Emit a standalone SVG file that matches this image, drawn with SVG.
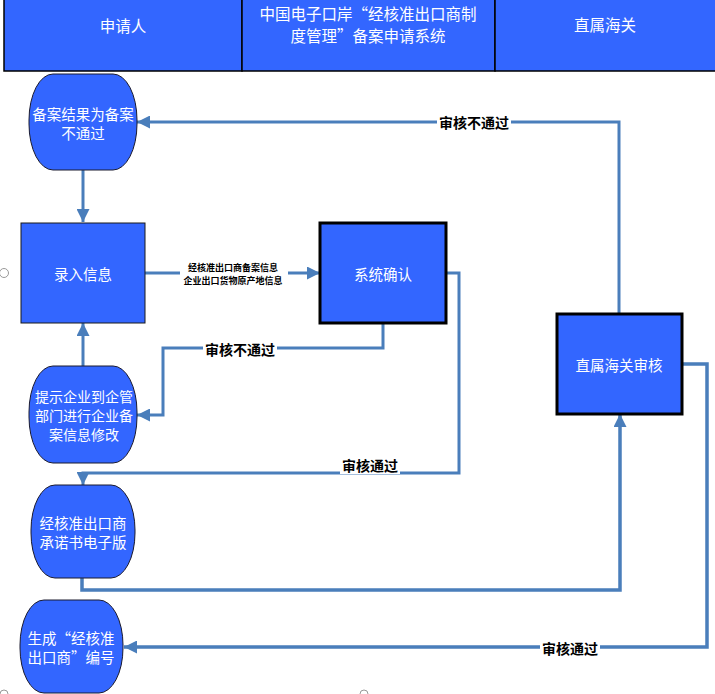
<svg xmlns="http://www.w3.org/2000/svg" width="715" height="694" viewBox="0 0 715 694">
<defs>
<style>
.hdr{fill:#3366ff;stroke:#000;stroke-width:1.5}
.box{fill:#3366ff;stroke:#1a1a1a;stroke-width:1}
.boxb{fill:#3366ff;stroke:#000;stroke-width:3}
.brl{fill:#3366ff;stroke:#1a1a2e;stroke-width:1}
.wt{fill:#fff;font-family:"Noto Sans CJK SC","Noto Sans",sans-serif;text-anchor:middle;dominant-baseline:central}
.ht{font-size:15.5px}
.nt{font-size:14.5px}
.nt3{font-size:14px}
.lb{fill:#000;font-family:"Noto Sans CJK SC","Noto Sans",sans-serif;font-weight:bold;font-size:14px;text-anchor:middle;dominant-baseline:central}
.sm{fill:#000;font-family:"Noto Sans CJK SC","Noto Sans",sans-serif;font-weight:bold;font-size:9px;text-anchor:middle;dominant-baseline:central}
.ln{fill:none;stroke:#4a7ebb;stroke-width:3}
.lnt{fill:none;stroke:#4a7ebb;stroke-width:3.5}
.bg{fill:#fff}
.hd{fill:none;stroke:#999;stroke-width:1}
</style>
<marker id="ah" viewBox="0 0 10 10" refX="10" refY="5" markerWidth="13" markerHeight="13" markerUnits="userSpaceOnUse" orient="auto">
<path d="M0,0 L10,5 L0,10 z" fill="#4a7ebb"/>
</marker>
</defs>
<rect x="0" y="0" width="715" height="694" fill="#fff"/>

<g id="header">
<rect class="hdr" x="4" y="-2" width="238" height="73"/>
<rect class="hdr" x="242" y="-2" width="253" height="73"/>
<rect class="hdr" x="495" y="-2" width="222" height="73"/>
<text class="wt ht" x="123" y="25">申请人</text>
<text class="wt ht" x="368" y="12.5">中国电子口岸“经核准出口商制</text>
<text class="wt ht" x="368" y="35">度管理”备案申请系统</text>
<text class="wt ht" x="605" y="24">直属海关</text>
</g>

<g id="connectors">
<path class="ln" d="M83,170 V222" marker-end="url(#ah)"/>
<path class="ln" d="M145,273 H320" marker-end="url(#ah)"/>
<path class="ln" d="M446,273 H459 V473 H83 V485" marker-end="url(#ah)"/>
<path class="ln" d="M383,323 V348 H163 V415 H137" marker-end="url(#ah)"/>
<path class="ln" d="M83,366 V323" marker-end="url(#ah)"/>
<path class="lnt" d="M82,578 V590 H620 V414" marker-end="url(#ah)"/>
<path class="ln" d="M619,314 V122 H137" marker-end="url(#ah)"/>
<path class="lnt" d="M682,364 H707 V647 H124" marker-end="url(#ah)"/>
<rect class="bg" x="180" y="261" width="108" height="25"/>
<text class="sm" x="233" y="267">经核准出口商备案信息</text>
<text class="sm" x="233" y="280">企业出口货物原产地信息</text>
<rect class="bg" x="437" y="113" width="74" height="18"/>
<text class="lb" x="474" y="122">审核不通过</text>
<rect class="bg" x="203" y="340" width="74" height="18"/>
<text class="lb" x="240" y="349">审核不通过</text>
<rect class="bg" x="340" y="456" width="60" height="18"/>
<text class="lb" x="370" y="465">审核通过</text>
<rect class="bg" x="540" y="639" width="60" height="18"/>
<text class="lb" x="570" y="648">审核通过</text>
</g>

<g id="n1">
<rect class="brl" x="29" y="74" width="108" height="96" rx="24" ry="46"/>
<text class="wt nt" x="83" y="113">备案结果为备案</text>
<text class="wt nt" x="83" y="132">不通过</text>
</g>
<g id="n2">
<rect class="box" x="21" y="223" width="124" height="100"/>
<text class="wt nt" x="83" y="273">录入信息</text>
</g>
<g id="n3">
<rect class="boxb" x="320" y="223" width="126" height="100"/>
<text class="wt nt" x="383" y="273">系统确认</text>
</g>
<g id="n4">
<rect class="brl" x="29" y="366" width="108" height="97" rx="24" ry="46"/>
<text class="wt nt3" x="84" y="396">提示企业到企管</text>
<text class="wt nt3" x="84" y="415">部门进行企业备</text>
<text class="wt nt3" x="84" y="434">案信息修改</text>
</g>
<g id="n5">
<rect class="brl" x="31" y="485" width="104" height="93" rx="24" ry="45"/>
<text class="wt nt" x="83" y="522">经核准出口商</text>
<text class="wt nt" x="83" y="541">承诺书电子版</text>
</g>
<g id="n6">
<rect class="boxb" x="557" y="314" width="125" height="100"/>
<text class="wt nt" x="619" y="364">直属海关审核</text>
</g>
<g id="n7">
<rect class="brl" x="20" y="600" width="103" height="93" rx="24" ry="45"/>
<text class="wt nt" x="71" y="637">生成“经核准</text>
<text class="wt nt" x="71" y="656">出口商”编号</text>
</g>

<g id="handles">
<circle class="hd" cx="4" cy="273" r="4.5"/>
<circle class="hd" cx="4" cy="694" r="4"/>
<circle class="hd" cx="364" cy="694" r="4"/>
</g>
</svg>
